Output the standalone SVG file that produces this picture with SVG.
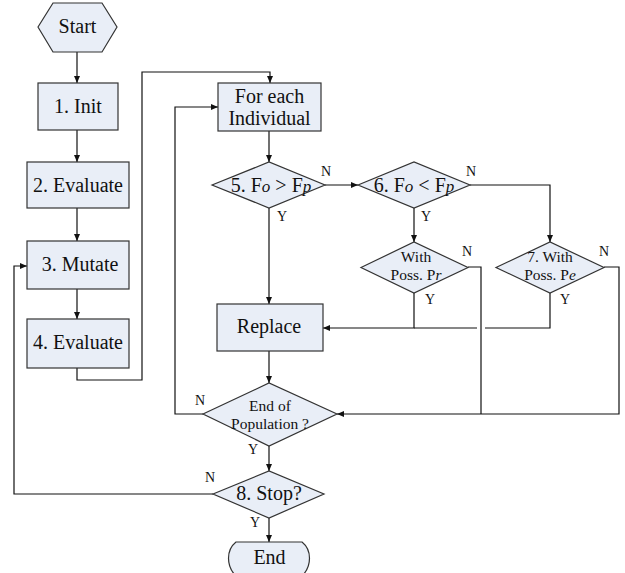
<svg xmlns="http://www.w3.org/2000/svg" width="625" height="573" viewBox="0 0 625 573">
<defs>
<marker id="arr" markerUnits="userSpaceOnUse" markerWidth="7" markerHeight="6" refX="7" refY="3" orient="auto">
<path d="M0,0 L7,3 L0,6 z" fill="#111"/>
</marker>
<style>
.shape{fill:#e9eef7;stroke:#333;stroke-width:1.2}
.line{fill:none;stroke:#111;stroke-width:1.2}
.arr{marker-end:url(#arr)}
text{font-family:"Liberation Serif","Times New Roman",serif;fill:#111;text-anchor:middle}
.big{font-size:20px}
.mid{font-size:15.5px}
.lbl{font-size:14px}
.it{font-style:italic;font-size:17px}
</style>
</defs>
<rect width="625" height="573" fill="#fff"/>
<g id="connectors">
<path class="line arr" d="M77,52 V83"/>
<path class="line arr" d="M77,130 V162"/>
<path class="line arr" d="M77,208 V241"/>
<path class="line arr" d="M77,289 V319"/>
<path class="line arr" d="M77,368 V380 H142 V72 H270 V83"/>
<path class="line arr" d="M269,131 V162"/>
<path class="line arr" d="M325,185 H358"/>
<path class="line arr" d="M414,208 V242"/>
<path class="line arr" d="M470,185 H550 V242"/>
<path class="line arr" d="M269,208 V304"/>
<path class="line arr" d="M414,293 V328 H323"/>
<path class="line" d="M550,293 V328 H485 M477,328 H414"/>
<path class="line" d="M468,267 H481 V414"/>
<path class="line arr" d="M604,267 H619 V414 H337"/>
<path class="line arr" d="M269,351 V383"/>
<path class="line arr" d="M203,414 H175 V107 H218"/>
<path class="line arr" d="M269,446 V471"/>
<path class="line arr" d="M213,494 H14 V266 H27"/>
<path class="line arr" d="M269,518 V542"/>
</g>
<g id="start">
<polygon class="shape" points="38,27 53,3 102,3 117,27 102,52 53,52"/>
<text class="big" x="77.5" y="33">Start</text>
</g>
<g id="init">
<rect class="shape" x="38" y="83" width="80" height="47"/>
<text class="big" x="78" y="113">1. Init</text>
</g>
<g id="evaluate1">
<rect class="shape" x="27" y="162" width="102" height="46"/>
<text class="big" x="78" y="192">2. Evaluate</text>
</g>
<g id="mutate">
<rect class="shape" x="27" y="241" width="102" height="48"/>
<text class="big" x="80" y="271">3. Mutate</text>
</g>
<g id="evaluate2">
<rect class="shape" x="27" y="319" width="102" height="49"/>
<text class="big" x="78" y="349">4. Evaluate</text>
</g>
<g id="foreach">
<rect class="shape" x="218" y="83" width="103" height="48"/>
<text class="big" x="269.5" y="103">For each</text>
<text class="big" x="269.5" y="125">Individual</text>
</g>
<g id="cond5">
<polygon class="shape" points="212,185 269,162 325,185 269,208"/>
<text class="big" x="271" y="192">5. F<tspan class="it">o</tspan> &gt; F<tspan class="it">p</tspan></text>
<text class="lbl" x="326" y="176">N</text>
<text class="lbl" x="282" y="221">Y</text>
</g>
<g id="cond6">
<polygon class="shape" points="358,185 414,162 470,185 414,208"/>
<text class="big" x="414" y="192">6. F<tspan class="it">o</tspan> &lt; F<tspan class="it">p</tspan></text>
<text class="lbl" x="471" y="176">N</text>
<text class="lbl" x="426" y="221">Y</text>
</g>
<g id="possPr">
<polygon class="shape" points="361,267.5 414,242 468,267.5 414,293"/>
<text class="mid" x="416" y="262">With</text>
<text class="mid" x="416" y="280">Poss. P<tspan font-style="italic">r</tspan></text>
<text class="lbl" x="467" y="256">N</text>
<text class="lbl" x="430" y="304">Y</text>
</g>
<g id="possPe">
<polygon class="shape" points="496,267.5 550,242 604,267.5 550,293"/>
<text class="mid" x="550" y="262">7. With</text>
<text class="mid" x="550" y="280">Poss. P<tspan font-style="italic">e</tspan></text>
<text class="lbl" x="604" y="256">N</text>
<text class="lbl" x="565" y="304">Y</text>
</g>
<g id="replace">
<rect class="shape" x="217" y="304" width="106" height="47"/>
<text class="big" x="269" y="333">Replace</text>
</g>
<g id="endpop">
<polygon class="shape" points="203,414 269,383 337,414 269,446"/>
<text class="mid" x="270" y="411">End of</text>
<text class="mid" x="270" y="429">Population ?</text>
<text class="lbl" x="200" y="405">N</text>
<text class="lbl" x="253" y="454">Y</text>
</g>
<g id="stop">
<polygon class="shape" points="213,494 269,471 324,494 269,518"/>
<text class="big" x="269" y="500">8. Stop?</text>
<text class="lbl" x="210" y="482">N</text>
<text class="lbl" x="255" y="527">Y</text>
</g>
<g id="end">
<path class="shape" d="M236,542 H302 C312,550 312,566 302,576 H236 C226,566 226,550 236,542 Z"/>
<text class="big" x="269.5" y="564">End</text>
</g>
</svg>
